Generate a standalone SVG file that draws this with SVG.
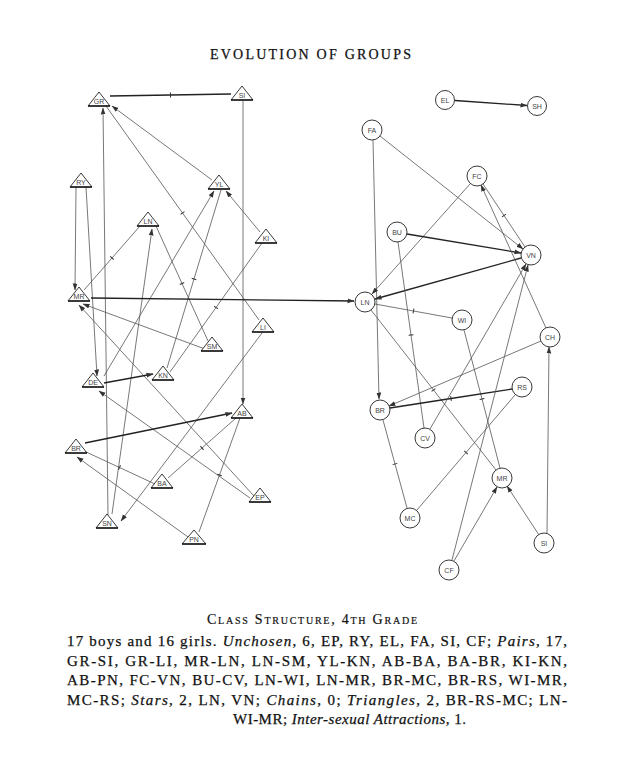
<svg xmlns="http://www.w3.org/2000/svg" width="624" height="767" viewBox="0 0 624 767">
<defs>
<style>
.c{fill:none;stroke:#555;stroke-width:0.8}
.thick{stroke:#222;stroke-width:1.3}
.arr{marker-end:url(#arr)}
.mut{marker-mid:url(#tick)}
.tri,.cir{fill:#fff;stroke:#222;stroke-width:0.9}
.base{stroke:#111;stroke-width:1.4}
.lbl{font-family:"Liberation Sans",Arial,sans-serif;font-size:7px;fill:#444;text-anchor:middle}
.title{font-family:"Liberation Serif","Times New Roman",serif;font-size:14px;fill:#111;stroke:#111;stroke-width:0.25;text-anchor:middle;letter-spacing:1px}
.cap{font-family:"Liberation Serif","Times New Roman",serif;font-size:14px;fill:#111;stroke:#111;stroke-width:0.2;font-variant:small-caps;text-anchor:middle}
.body{font-family:"Liberation Serif","Times New Roman",serif;font-size:15px;fill:#111;stroke:#111;stroke-width:0.25}
.it{font-style:italic}
</style>
<marker id="arr" markerWidth="7" markerHeight="6" refX="6.5" refY="3" orient="auto" markerUnits="userSpaceOnUse"><path d="M0,0.6 L7,3 L0,5.4 Z" fill="#333"/></marker>
<marker id="tick" markerWidth="6" markerHeight="6" refX="3" refY="3" orient="auto" markerUnits="userSpaceOnUse"><path d="M3,0.6 V5.4" stroke="#333" stroke-width="1"/></marker>
</defs>
<rect width="624" height="767" fill="#fff"/>
<text class="title" x="311" y="59" textLength="202" lengthAdjust="spacing">EVOLUTION OF GROUPS</text>

<g id="connectors">
<polyline class="c thick mut" points="110,96 170.5,95 231,94"/>
<line class="c arr" x1="243" y1="101" x2="243" y2="404"/>
<line class="c arr" x1="212" y1="180" x2="112" y2="106"/>
<polyline class="c mut" points="106,106 182.5,213 259,320"/>
<line class="c arr" x1="108" y1="515" x2="103" y2="108"/>
<line class="c arr" x1="76" y1="187" x2="75" y2="290"/>
<line class="c arr" x1="86" y1="187" x2="97" y2="376"/>
<polyline class="c mut" points="140,226 112,258 84,290"/>
<polyline class="c mut" points="156,226 182,283.5 208,341"/>
<line class="c arr" x1="112" y1="514" x2="152" y2="229"/>
<line class="c arr" x1="205" y1="349" x2="83" y2="304"/>
<line class="c arr" x1="254" y1="496" x2="79" y2="305"/>
<line class="c arr" x1="250" y1="498" x2="99" y2="391"/>
<line class="c thick arr" x1="104" y1="383" x2="153" y2="374"/>
<line class="c arr" x1="104" y1="376" x2="214" y2="191"/>
<polyline class="c mut" points="221,190 194,279 167,368"/>
<polyline class="c mut" points="262,243 216,307.5 170,372"/>
<line class="c arr" x1="260" y1="232" x2="226" y2="191"/>
<line class="c arr" x1="262" y1="333" x2="121" y2="521"/>
<line class="c thick arr" x1="85" y1="443" x2="232" y2="413"/>
<polyline class="c mut" points="236,418 202,448 168,478"/>
<polyline class="c mut" points="240,418 219.5,475 199,532"/>
<polyline class="c mut" points="155,484 119.5,467.5 84,451"/>
<line class="c arr" x1="188" y1="537" x2="77" y2="457"/>
<line class="c thick arr" x1="91" y1="298" x2="354" y2="301"/>
<line class="c thick arr" x1="455" y1="100.5" x2="527" y2="105.5"/>
<line class="c arr" x1="373" y1="140" x2="379" y2="399"/>
<line class="c arr" x1="380" y1="136" x2="523" y2="249"/>
<polyline class="c mut" points="483,184 504,215.5 525,247"/>
<line class="c arr" x1="470" y1="184" x2="372" y2="294"/>
<line class="c thick arr" x1="407" y1="234" x2="521" y2="253"/>
<line class="c thick arr" x1="521" y1="258" x2="375" y2="299"/>
<polyline class="c mut" points="398,242 411,335 424,428"/>
<polyline class="c mut" points="375,304 413.5,311 452,318"/>
<polyline class="c mut" points="371,310 433.5,390 496,470"/>
<polyline class="c mut" points="464,330 482,399 500,468"/>
<line class="c arr" x1="541" y1="341" x2="389" y2="406"/>
<line class="c arr" x1="546" y1="328" x2="481" y2="185"/>
<polyline class="c thick mut" points="512,389 451,398.5 390,408"/>
<polyline class="c mut" points="515,395 466,452.5 417,510"/>
<polyline class="c mut" points="383,420 395,464 407,508"/>
<line class="c arr" x1="430" y1="429" x2="526" y2="264"/>
<line class="c arr" x1="452" y1="560" x2="528" y2="265"/>
<line class="c arr" x1="454" y1="561" x2="497" y2="487"/>
<line class="c arr" x1="539" y1="535" x2="507" y2="486"/>
<line class="c arr" x1="547" y1="533" x2="549" y2="347"/>
</g>

<g id="b-GR"><path class="tri" d="M99,92 L110,106 L88,106 Z"/><line class="base" x1="88" y1="106" x2="110" y2="106"/><text class="lbl" x="99" y="104">GR</text></g>
<g id="b-SI"><path class="tri" d="M242,86 L253,100 L231,100 Z"/><line class="base" x1="231" y1="100" x2="253" y2="100"/><text class="lbl" x="242" y="98">SI</text></g>
<g id="b-RY"><path class="tri" d="M81,173 L92,187 L70,187 Z"/><line class="base" x1="70" y1="187" x2="92" y2="187"/><text class="lbl" x="81" y="185">RY</text></g>
<g id="b-YL"><path class="tri" d="M219,175 L230,189 L208,189 Z"/><line class="base" x1="208" y1="189" x2="230" y2="189"/><text class="lbl" x="219" y="187">YL</text></g>
<g id="b-LN"><path class="tri" d="M148,212 L159,226 L137,226 Z"/><line class="base" x1="137" y1="226" x2="159" y2="226"/><text class="lbl" x="148" y="224">LN</text></g>
<g id="b-KI"><path class="tri" d="M266,229 L277,243 L255,243 Z"/><line class="base" x1="255" y1="243" x2="277" y2="243"/><text class="lbl" x="266" y="241">KI</text></g>
<g id="b-MR"><path class="tri" d="M79,287 L90,301 L68,301 Z"/><line class="base" x1="68" y1="301" x2="90" y2="301"/><text class="lbl" x="79" y="299">MR</text></g>
<g id="b-LI"><path class="tri" d="M263,318 L274,332 L252,332 Z"/><line class="base" x1="252" y1="332" x2="274" y2="332"/><text class="lbl" x="263" y="330">LI</text></g>
<g id="b-SM"><path class="tri" d="M212,337 L223,351 L201,351 Z"/><line class="base" x1="201" y1="351" x2="223" y2="351"/><text class="lbl" x="212" y="349">SM</text></g>
<g id="b-DE"><path class="tri" d="M93,373 L104,387 L82,387 Z"/><line class="base" x1="82" y1="387" x2="104" y2="387"/><text class="lbl" x="93" y="385">DE</text></g>
<g id="b-KN"><path class="tri" d="M163,366 L174,380 L152,380 Z"/><line class="base" x1="152" y1="380" x2="174" y2="380"/><text class="lbl" x="163" y="378">KN</text></g>
<g id="b-AB"><path class="tri" d="M242,404 L253,418 L231,418 Z"/><line class="base" x1="231" y1="418" x2="253" y2="418"/><text class="lbl" x="242" y="416">AB</text></g>
<g id="b-BR"><path class="tri" d="M76,439 L87,453 L65,453 Z"/><line class="base" x1="65" y1="453" x2="87" y2="453"/><text class="lbl" x="76" y="451">BR</text></g>
<g id="b-BA"><path class="tri" d="M162,474 L173,488 L151,488 Z"/><line class="base" x1="151" y1="488" x2="173" y2="488"/><text class="lbl" x="162" y="486">BA</text></g>
<g id="b-EP"><path class="tri" d="M260,488 L271,502 L249,502 Z"/><line class="base" x1="249" y1="502" x2="271" y2="502"/><text class="lbl" x="260" y="500">EP</text></g>
<g id="b-SN"><path class="tri" d="M107,514 L118,528 L96,528 Z"/><line class="base" x1="96" y1="528" x2="118" y2="528"/><text class="lbl" x="107" y="526">SN</text></g>
<g id="b-PN"><path class="tri" d="M194,530 L206,544 L182,544 Z"/><line class="base" x1="182" y1="544" x2="206" y2="544"/><text class="lbl" x="194" y="542">PN</text></g>

<g id="g-EL"><circle class="cir" cx="445" cy="100" r="9.5"/><text class="lbl" x="445" y="103">EL</text></g>
<g id="g-SH"><circle class="cir" cx="537" cy="106" r="9.5"/><text class="lbl" x="537" y="109">SH</text></g>
<g id="g-FA"><circle class="cir" cx="372" cy="130" r="10"/><text class="lbl" x="372" y="133">FA</text></g>
<g id="g-FC"><circle class="cir" cx="477" cy="176" r="10"/><text class="lbl" x="477" y="179">FC</text></g>
<g id="g-BU"><circle class="cir" cx="397" cy="232" r="10"/><text class="lbl" x="397" y="235">BU</text></g>
<g id="g-VN"><circle class="cir" cx="531" cy="255" r="10"/><text class="lbl" x="531" y="258">VN</text></g>
<g id="g-LN"><circle class="cir" cx="365" cy="302" r="10"/><text class="lbl" x="365" y="305">LN</text></g>
<g id="g-WI"><circle class="cir" cx="462" cy="320" r="10"/><text class="lbl" x="462" y="323">WI</text></g>
<g id="g-CH"><circle class="cir" cx="550" cy="337" r="10"/><text class="lbl" x="550" y="340">CH</text></g>
<g id="g-RS"><circle class="cir" cx="522" cy="387" r="10"/><text class="lbl" x="522" y="390">RS</text></g>
<g id="g-BR"><circle class="cir" cx="380" cy="410" r="10"/><text class="lbl" x="380" y="413">BR</text></g>
<g id="g-CV"><circle class="cir" cx="425" cy="438" r="10"/><text class="lbl" x="425" y="441">CV</text></g>
<g id="g-MR"><circle class="cir" cx="502" cy="478" r="10"/><text class="lbl" x="502" y="481">MR</text></g>
<g id="g-MC"><circle class="cir" cx="410" cy="518" r="10"/><text class="lbl" x="410" y="521">MC</text></g>
<g id="g-SI"><circle class="cir" cx="544" cy="543" r="10"/><text class="lbl" x="544" y="546">SI</text></g>
<g id="g-CF"><circle class="cir" cx="449" cy="570" r="10"/><text class="lbl" x="449" y="573">CF</text></g>

<g id="caption">
<text class="cap" x="312" y="624" textLength="210" lengthAdjust="spacing">Class Structure, 4th Grade</text>
<text class="body" x="67" y="646" textLength="500" lengthAdjust="spacing">17 boys and 16 girls.  <tspan class="it">Unchosen</tspan>, 6, EP, RY, EL, FA, SI, CF; <tspan class="it">Pairs</tspan>, 17,</text>
<text class="body" x="67" y="665.5" textLength="500" lengthAdjust="spacing">GR-SI, GR-LI, MR-LN, LN-SM, YL-KN, AB-BA, BA-BR, KI-KN,</text>
<text class="body" x="67" y="685" textLength="500" lengthAdjust="spacing">AB-PN, FC-VN, BU-CV, LN-WI, LN-MR, BR-MC, BR-RS, WI-MR,</text>
<text class="body" x="67" y="704.5" textLength="500" lengthAdjust="spacing">MC-RS; <tspan class="it">Stars</tspan>, 2, LN, VN; <tspan class="it">Chains</tspan>, 0; <tspan class="it">Triangles</tspan>, 2, BR-RS-MC; LN-</text>
<text class="body" x="233" y="724" textLength="233" lengthAdjust="spacing">WI-MR; <tspan class="it">Inter-sexual Attractions</tspan>, 1.</text>
</g>
</svg>
